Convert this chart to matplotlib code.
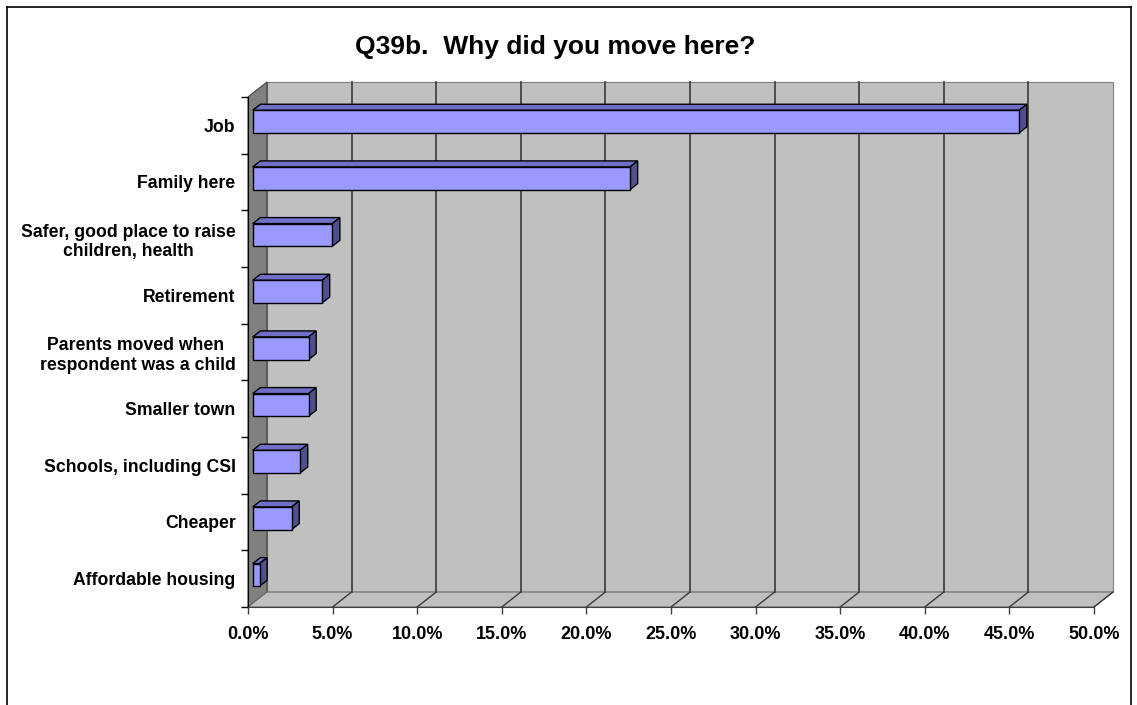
import matplotlib
matplotlib.use("Agg")
import matplotlib.pyplot as plt
import numpy as np
from matplotlib.patches import Polygon
from matplotlib.lines import Line2D

reasons = ["Job", "Family here", "Safer, good place to raise\nchildren, health",
           "Retirement", "Parents moved when \nrespondent was a child",
           "Smaller town", "Schools, including CSI", "Cheaper",
           "Affordable housing"]
shares = [45.3, 22.3, 4.7, 4.1, 3.3, 3.3, 2.8, 2.3, 0.4]
x_ticks = [0, 5, 10, 15, 20, 25, 30, 35, 40, 45, 50]
x_labels = ["%.1f%%" % v for v in x_ticks]
title = "Q39b.  Why did you move here?"

plt.rcParams['font.family'] = ['Liberation Sans', 'DejaVu Sans']

W, H = 1137, 705
fig = plt.figure(figsize=(W / 100, H / 100), dpi=100)
fig.patch.set_facecolor('white')

# outer chart border (bottom edge is cut off in the original)
for xs, ys in [([7, 7], [0, 698]), ([7, 1131], [698, 698]), ([1131, 1131], [0, 698])]:
    fig.add_artist(Line2D(np.array(xs) / W, np.array(ys) / H, color='black',
                          lw=1.2, transform=fig.transFigure))

# front plane of the plot area
ax = fig.add_axes([248 / W, 1 - 607 / H, (1094 - 248) / W, (607 - 97) / H])
ax.set_xlim(0, 50)
ax.set_ylim(-0.5, len(reasons) - 0.5)
ax.patch.set_visible(False)

# depth of the 3d box in data units (approx 19px right, 15px up)
DX = 19 * 50 / 846
DY = 15 * len(reasons) / 510
ymin, ymax = -0.5, len(reasons) - 0.5


def back(x, y, t=1.0):
    return (x + DX * t, y + DY * t)


# back wall
ax.add_patch(Polygon([back(0, ymin), back(50, ymin), back(50, ymax), back(0, ymax)],
                     closed=True, fc='#C0C0C0', ec='#808080', lw=0.8,
                     clip_on=False, zorder=1))
# left wall
ax.add_patch(Polygon([(0, ymin), back(0, ymin), back(0, ymax), (0, ymax)],
                     closed=True, fc='#808080', ec='#404040', lw=0.8,
                     clip_on=False, zorder=1))
# floor
ax.add_patch(Polygon([(0, ymin), (50, ymin), back(50, ymin), back(0, ymin)],
                     closed=True, fc='#C0C0C0', ec='#6A6A6A', lw=0.8,
                     clip_on=False, zorder=1))

# gridlines on back wall and floor
for xv in x_ticks[1:]:
    if xv < 50:
        bx0, by0 = back(xv, ymin)
        bx1, by1 = back(xv, ymax)
        ax.plot([bx0, bx1], [by0, by1], color='#3A3A3A', lw=1.2,
                clip_on=False, zorder=2)
    fx, fy = back(xv, ymin)
    ax.plot([xv, fx], [ymin, fy], color='#3A3A3A', lw=1.0,
            clip_on=False, zorder=2)

# 3d bars
t1, t2 = 0.25, 0.65
hh = 0.2
ypos = np.arange(len(reasons))[::-1]
ax.barh(ypos + DY * t1, shares, height=2 * hh, left=DX * t1, color='#9999FF',
        edgecolor='black', linewidth=1.0, zorder=5, clip_on=False)
for y, v in zip(ypos, shares):
    top = [back(0, y + hh, t1), back(v, y + hh, t1),
           back(v, y + hh, t2), back(0, y + hh, t2)]
    side = [back(v, y - hh, t1), back(v, y - hh, t2),
            back(v, y + hh, t2), back(v, y + hh, t1)]
    ax.add_patch(Polygon(top, closed=True, fc='#6F6FC8', ec='black', lw=1.0,
                         clip_on=False, zorder=4))
    ax.add_patch(Polygon(side, closed=True, fc='#50508C', ec='black', lw=1.0,
                         clip_on=False, zorder=4))

# axes, ticks, labels
for s in ['top', 'right']:
    ax.spines[s].set_visible(False)
ax.spines['left'].set_color('black')
ax.spines['bottom'].set_color('#404040')
ax.spines['left'].set_zorder(6)
ax.spines['bottom'].set_zorder(6)

ax.set_xticks(x_ticks)
ax.set_xticklabels(x_labels, fontsize=13, fontweight='bold')
ax.tick_params(axis='x', direction='out', length=5, width=1, color='#404040',
               pad=9)

ax.set_yticks(ypos)
ax.set_yticklabels(reasons, fontsize=12.7, fontweight='bold',
                   multialignment='center')
ax.set_yticks(np.arange(len(reasons) + 1) - 0.5, minor=True)
ax.tick_params(axis='y', which='major', length=0, pad=9)
ax.tick_params(axis='y', which='minor', direction='out', length=5, width=1,
               color='black')

fig.text(555 / W, 1 - 47 / H, title, ha='center', va='center',
         fontsize=19, fontweight='bold')

fig.savefig('out.png', dpi=100)
